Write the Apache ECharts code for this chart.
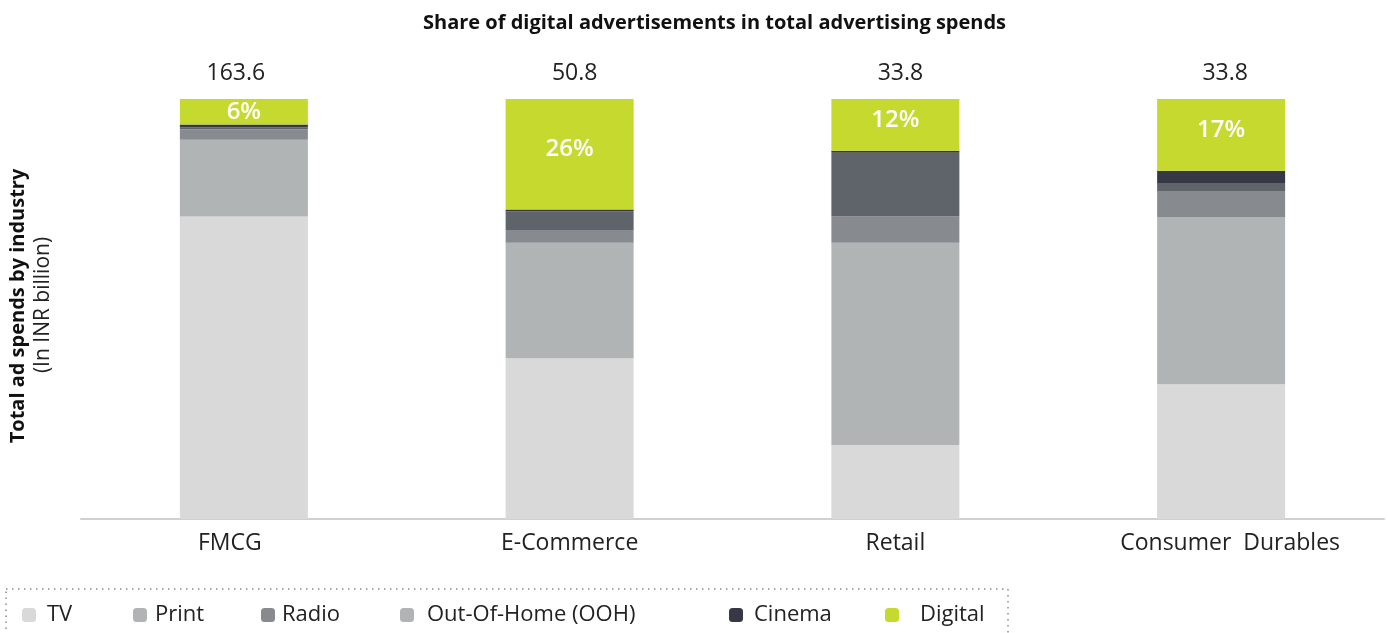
<!DOCTYPE html>
<html>
<head>
<meta charset="utf-8">
<script src="https://cdn.jsdelivr.net/npm/echarts@6/dist/echarts.min.js"></script>
<style>
  html, body { margin: 0; padding: 0; background: #fff; }
  #chart { width: 1388px; height: 633px; }
</style>
</head>
<body>
<div id="chart"></div>
<script>
  // industries and their total spend (INR billion)
  const categories = ['FMCG', 'E-Commerce', 'Retail', 'Consumer  Durables']
  const totals = ['163.6', '50.8', '33.8', '33.8']

  // share of each medium, in percent of the industry total
  const tv = [72.0, 38.3, 17.6, 32.1]
  const print = [18.3, 27.5, 48.2, 39.8]
  const radio = [2.5, 3.0, 6.2, 6.2]
  const ooh = [0.5, 4.5, 15.4, 1.9]
  const cinema = [0.6, 0.4, 0.3, 2.9]
  const digital = [6.1, 26.3, 12.3, 17.1]

  const font = '"Open Sans", "Noto Sans", sans-serif'

  // small horizontal nudges (px) of the labels, as in the original layout
  const catShift = [-14, 0, 0, 9]
  const totalShift = [-8, 5, 5, 4]
  const pctOffset = [0, -5, -5, -5]

  let chart = echarts.init(document.getElementById('chart'))

  function shifted (values, shifts) {
    return values.map((v, i) => {
      let s = shifts[i]
      return {
        value: v,
        textStyle: {padding: s < 0 ? [0, -2 * s, 0, 0] : [0, 0, 0, 2 * s]}
      }
    })
  }

  // bar colour / legend icon colour (OOH icon is light in the original legend)
  const media = [
    {name: 'TV', data: tv, color: '#d9d9d9', icon: '#d9d9d9', left: 22, pad: 6},
    {name: 'Print', data: print, color: '#b1b4b5', icon: '#b1b4b5', left: 133, pad: 3},
    {name: 'Radio', data: radio, color: '#878a8f', icon: '#878a8f', left: 261, pad: 2},
    {name: 'Out-Of-Home (OOH)', data: ooh, color: '#5f646b', icon: '#b1b4b5', left: 400, pad: 8},
    {name: 'Cinema', data: cinema, color: '#363845', icon: '#363845', left: 729, pad: 6},
    {name: 'Digital', data: digital, color: '#c5d92e', icon: '#c5d92e', left: 885, pad: 16}
  ]

  const series = media.map((m) => {
    let s = {
      name: m.name,
      type: 'bar',
      stack: 'total',
      barWidth: 128,
      itemStyle: {color: m.color},
      data: m.data
    }
    if (m.name === 'Digital') {
      s.data = m.data.map((v, i) => {
        return {value: v, label: {offset: [0, pctOffset[i]]}}
      })
      s.label = {
        show: true,
        position: 'inside',
        color: '#fff',
        fontFamily: font,
        fontWeight: 600,
        fontSize: 24,
        formatter: (p) => Math.round(p.value) + '%'
      }
    }
    return s
  })

  const legends = media.map((m) => {
    return {
      data: [{name: m.name, itemStyle: {color: m.icon}}],
      left: m.left,
      top: 603,
      padding: 0,
      itemWidth: 14,
      itemHeight: 14,
      selectedMode: false,
      textStyle: {
        fontFamily: font,
        fontSize: 22,
        color: '#222',
        lineHeight: 24,
        padding: [0, 0, 0, m.pad]
      }
    }
  })

  let option = {
    animation: false,
    title: {
      text: 'Share of digital advertisements in total advertising spends',
      left: 418,
      top: 8,
      textStyle: {fontFamily: font, fontSize: 20, fontWeight: 'bold', color: '#111'}
    },
    legend: legends,
    grid: {left: 81, right: 4, top: 99, bottom: 114},
    xAxis: [
      {
        type: 'category',
        data: shifted(categories, catShift),
        axisLine: {lineStyle: {color: '#d0d0d0', width: 2}},
        axisTick: {show: false},
        axisLabel: {margin: 13, fontFamily: font, fontSize: 23, color: '#222'}
      },
      {
        type: 'category',
        position: 'top',
        data: shifted(totals, totalShift),
        axisLine: {show: false},
        axisTick: {show: false},
        axisLabel: {margin: 14, fontFamily: font, fontSize: 23, color: '#222'}
      }
    ],
    yAxis: {type: 'value', min: 0, max: 100, show: false},
    graphic: [
      {
        type: 'text',
        x: 18,
        y: 306,
        rotation: Math.PI / 2,
        style: {
          text: 'Total ad spends by industry',
          fontFamily: font,
          fontSize: 20,
          fontWeight: 'bold',
          fill: '#111',
          textAlign: 'center',
          textVerticalAlign: 'middle'
        }
      },
      {
        type: 'text',
        x: 43,
        y: 305,
        rotation: Math.PI / 2,
        style: {
          text: '(In INR billion)',
          fontFamily: font,
          fontSize: 21,
          fill: '#222',
          textAlign: 'center',
          textVerticalAlign: 'middle'
        }
      },
      {
        type: 'rect',
        shape: {x: 6, y: 589, width: 1002, height: 80},
        style: {fill: 'none', stroke: '#8a8a8a', lineWidth: 1.5, lineDash: [1.5, 4.5]}
      }
    ],
    series: series
  }

  chart.setOption(option)
</script>
</body>
</html>
